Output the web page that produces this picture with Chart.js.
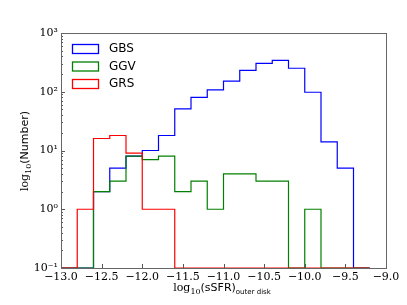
<!DOCTYPE html>
<html>
<head>
    <title>sSFR histogram</title>
    <script src="https://cdn.jsdelivr.net/npm/chart.js"></script>
    <style>
        body { margin: 0; background: #fff; }
    </style>
</head>
<body>
    <canvas id="histChart" width="407" height="305"></canvas>

    <script>
        // bin edges of the histogram (log10 sSFR)
        const binEdges = [-13.0, -12.8, -12.6, -12.4, -12.2, -12.0, -11.8, -11.6, -11.4, -11.2,
                          -11.0, -10.8, -10.6, -10.4, -10.2, -10.0, -9.8, -9.6, -9.4, -9.2];

        // counts per bin
        const gbsCounts = [0, 0, 2, 5, 8, 10, 18, 51, 80, 108, 152, 232, 305, 343, 251, 98, 14, 5, 0];
        const ggvCounts = [0, 0, 2, 3, 8, 7, 8, 2, 3, 1, 4, 4, 3, 3, 0, 1, 0, 0, 0];
        const grsCounts = [0, 1, 16, 18, 9, 1, 1, 0, 0, 0, 0, 0, 0, 0, 0, 0, 0, 0, 0];

        const seriesNames = ["GBS", "GGV", "GRS"];
        const seriesColors = ["#0000ff", "#008000", "#ff0000"];

        const xTicks = [-13.0, -12.5, -12.0, -11.5, -11.0, -10.5, -10.0, -9.5, -9.0];
        const yTicks = [0.1, 1, 10, 100, 1000];
        const yTickLabels = ["10\u207B\u00B9", "10\u2070", "10\u00B9", "10\u00B2", "10\u00B3"];

        const yMin = 0.1;

        // step points: value of each bin at its left edge, last edge closes at the bottom
        function stepPoints(counts) {
            const pts = counts.map((c, i) => ({ x: binEdges[i], y: Math.max(c, yMin) }));
            pts.push({ x: binEdges[binEdges.length - 1], y: yMin });
            return pts;
        }

        const serifFont = "'DejaVu Serif', 'Liberation Serif', serif";
        const sansFont = "'DejaVu Sans', sans-serif";

        // draws text made of pieces with different fonts / offsets, centred on 0,0
        function drawRich(ctx, parts) {
            let total = 0;
            parts.forEach(p => { ctx.font = p.font; p.w = ctx.measureText(p.text).width; total += p.w; });
            let x = -total / 2;
            parts.forEach(p => {
                ctx.font = p.font;
                ctx.fillText(p.text, x, p.dy || 0);
                x += p.w;
            });
        }

        // frame, inward ticks, legend and axis titles
        const decorPlugin = {
            id: "decor",
            afterDraw(chart) {
                const ctx = chart.ctx;
                const a = chart.chartArea;
                const xs = chart.scales.x;
                const ys = chart.scales.y;
                ctx.save();

                // ticks
                ctx.strokeStyle = "#555";
                ctx.lineWidth = 1;
                ctx.beginPath();
                xTicks.forEach(v => {
                    const px = Math.round(xs.getPixelForValue(v)) + 0.5;
                    ctx.moveTo(px, a.bottom);
                    ctx.lineTo(px, a.bottom - 4);
                });
                for (let d = -1; d < 3; d++) {
                    for (let m = 1; m < 10; m++) {
                        const v = m * Math.pow(10, d);
                        const py = Math.round(ys.getPixelForValue(v)) + 0.5;
                        ctx.moveTo(a.left, py);
                        ctx.lineTo(a.left + (m === 1 ? 4 : 2), py);
                    }
                }
                ctx.stroke();

                // frame
                ctx.strokeStyle = "#666";
                ctx.strokeRect(Math.round(a.left) + 0.5, Math.round(a.top) + 0.5,
                               Math.round(a.right - a.left), Math.round(a.bottom - a.top));

                // legend
                ctx.lineWidth = 1.3;
                ctx.textBaseline = "middle";
                ctx.textAlign = "left";
                seriesNames.forEach((name, i) => {
                    const cy = 49 + i * 17.5;
                    ctx.strokeStyle = seriesColors[i];
                    ctx.strokeRect(72.5, cy - 4.5, 26, 9);
                    ctx.fillStyle = "#000";
                    ctx.font = "12px " + sansFont;
                    ctx.fillText(name, 109, cy);
                });

                // axis titles
                ctx.fillStyle = "#000";
                ctx.textBaseline = "alphabetic";
                ctx.save();
                ctx.translate(222, 291);
                drawRich(ctx, [
                    { text: "log", font: "11px " + serifFont },
                    { text: "10", font: "8px " + serifFont, dy: 3 },
                    { text: "(sSFR)", font: "11px " + sansFont },
                    { text: "outer disk", font: "7px " + sansFont, dy: 3 }
                ]);
                ctx.restore();

                ctx.save();
                ctx.translate(28, 151);
                ctx.rotate(-Math.PI / 2);
                drawRich(ctx, [
                    { text: "log", font: "11px " + serifFont },
                    { text: "10", font: "8px " + serifFont, dy: 3 },
                    { text: "(Number)", font: "11px " + sansFont }
                ]);
                ctx.restore();

                ctx.restore();
            }
        };

        const ctx = document.getElementById("histChart").getContext("2d");

        const allCounts = [gbsCounts, ggvCounts, grsCounts];
        const datasets = allCounts.map((counts, i) => ({
            label: seriesNames[i],
            data: stepPoints(counts),
            borderColor: seriesColors[i],
            borderWidth: 1.2,
            stepped: "before",
            pointRadius: 0,
            fill: false,
            order: 2 - i
        }));

        new Chart(ctx, {
            type: "line",
            data: { datasets: datasets },
            options: {
                responsive: false,
                animation: false,
                layout: { padding: { top: 33, right: 21, left: 0, bottom: 0 } },
                plugins: {
                    legend: { display: false },
                    tooltip: { enabled: false }
                },
                scales: {
                    x: {
                        type: "linear",
                        min: -13,
                        max: -9,
                        afterFit: s => { s.height = 37; },
                        afterBuildTicks: s => { s.ticks = xTicks.map(v => ({ value: v })); },
                        grid: { display: false, drawTicks: false },
                        border: { display: false },
                        ticks: {
                            padding: 3,
                            color: "#000",
                            maxRotation: 0,
                            autoSkip: false,
                            font: { family: serifFont, size: 11 },
                            callback: v => (v < 0 ? "\u2212" : "") + Math.abs(v).toFixed(1)
                        }
                    },
                    y: {
                        type: "logarithmic",
                        min: 0.1,
                        max: 1000,
                        afterFit: s => { s.width = 61; },
                        afterBuildTicks: s => { s.ticks = yTicks.map(v => ({ value: v })); },
                        grid: { display: false, drawTicks: false },
                        border: { display: false },
                        ticks: {
                            padding: 3,
                            color: "#000",
                            autoSkip: false,
                            font: { family: serifFont, size: 11 },
                            callback: v => yTickLabels[yTicks.indexOf(v)]
                        }
                    }
                }
            },
            plugins: [decorPlugin]
        });
    </script>
</body>
</html>
